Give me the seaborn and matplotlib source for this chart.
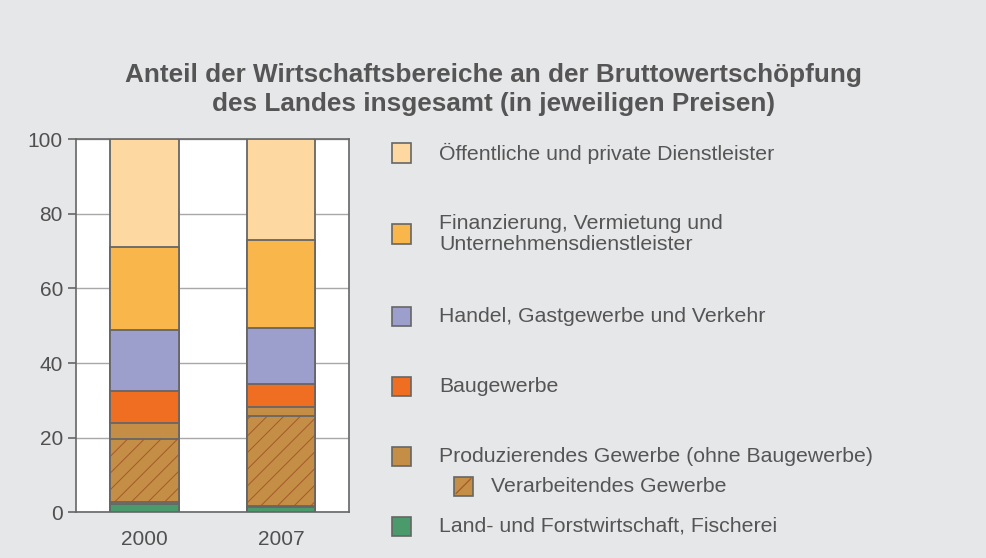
import matplotlib
matplotlib.use("Agg")
import matplotlib.pyplot as plt
from matplotlib.patches import Rectangle
import seaborn as sns
import numpy as np

# ---- data (percent of gross value added) ----
years = ["2000", "2007"]
land = [2.2, 1.3]            # Land- und Forstwirtschaft, Fischerei
prod_lower = [0.5, 0.5]      # part of Produzierendes Gewerbe below Verarbeitendes Gewerbe
verarb = [16.9, 24.1]        # Verarbeitendes Gewerbe (hatched, inside Produzierendes)
prod = [21.7, 27.0]          # Produzierendes Gewerbe (ohne Baugewerbe), total
bau = [8.5, 6.0]             # Baugewerbe
handel = [16.5, 15.2]        # Handel, Gastgewerbe und Verkehr
finanz = [22.1, 23.6]        # Finanzierung, Vermietung und Unternehmensdienstleister
oeff = [29.0, 26.9]          # Öffentliche und private Dienstleister
yticks = [0, 20, 40, 60, 80, 100]

title = "Anteil der Wirtschaftsbereiche an der Bruttowertschöpfung\ndes Landes insgesamt (in jeweiligen Preisen)"
legend_labels = [
    "Öffentliche und private Dienstleister",
    "Finanzierung, Vermietung und\nUnternehmensdienstleister",
    "Handel, Gastgewerbe und Verkehr",
    "Baugewerbe",
    "Produzierendes Gewerbe (ohne Baugewerbe)",
    "Verarbeitendes Gewerbe",
    "Land- und Forstwirtschaft, Fischerei",
]

C_OEFF = "#FDD8A0"
C_FIN = "#F9B74B"
C_HAN = "#9C9ECC"
C_BAU = "#F06E21"
C_PROD = "#C48E46"
C_LAND = "#4B9A6B"
C_HATCH = "#A5582A"
EDGE = "#666666"
BG = "#E6E7E9"
TXT = "#555555"

sns.set_theme(style="white")
plt.rcParams["font.family"] = ["Liberation Sans", "DejaVu Sans"]
plt.rcParams["hatch.linewidth"] = 0.7

fig = plt.figure(figsize=(9.87, 5.58), dpi=100, facecolor=BG)
ax = fig.add_axes([0.077, 0.0819, 0.277, 0.6685])
ax.set_facecolor("white")

a = lambda *ls: np.sum(np.array(ls, dtype=float), axis=0)
tot_land = a(land)
tot_prod = a(land, prod)
tot_bau = a(land, prod, bau)
tot_han = a(land, prod, bau, handel)
tot_fin = a(land, prod, bau, handel, finanz)
tot_oeff = a(land, prod, bau, handel, finanz, oeff)
tot_verarb = a(land, prod_lower, verarb)
tot_plow = a(land, prod_lower)

common = dict(width=0.5, saturation=1, ax=ax, zorder=3)
layers = [
    (tot_oeff, C_OEFF),
    (tot_fin, C_FIN),
    (tot_han, C_HAN),
    (tot_bau, C_BAU),
    (tot_prod, C_PROD),
]
for vals, col in layers:
    sns.barplot(x=years, y=vals, color=col, edgecolor=EDGE, linewidth=1.3, **common)
# hatched Verarbeitendes Gewerbe
sns.barplot(x=years, y=tot_verarb, color=C_PROD, edgecolor=C_HATCH, linewidth=0,
            hatch="//", **common)
sns.barplot(x=years, y=tot_verarb, fill=False, edgecolor=EDGE, linewidth=1.3, **common)
sns.barplot(x=years, y=tot_plow, color=C_PROD, edgecolor=EDGE, linewidth=1.3, **common)
sns.barplot(x=years, y=tot_land, color=C_LAND, edgecolor=EDGE, linewidth=1.3, **common)

ax.set_xlim(-0.5, 1.5)
ax.set_ylim(0, 100)
ax.set_yticks(yticks)
ax.set_yticklabels([str(t) for t in yticks])
ax.set_xlabel("")
ax.set_ylabel("")
ax.yaxis.grid(True, color="#A8A8A8", linewidth=1.0, zorder=0)
ax.set_axisbelow(True)
for s in ax.spines.values():
    s.set_color(EDGE)
    s.set_linewidth(1.2)
ax.tick_params(axis="y", which="both", left=True, length=5.8, width=1.2, color=EDGE,
               labelsize=15, labelcolor="#505050", pad=3.6)
ax.tick_params(axis="x", length=0, labelsize=15, labelcolor="#505050", pad=13)

fig.text(0.4995, 0.8396, title, ha="center", va="center", fontsize=18.8,
         fontweight="bold", color=TXT, linespacing=1.3)

# legend (manual)
W, H = fig.get_figwidth() * fig.dpi, fig.get_figheight() * fig.dpi
sq = 19
entries = [
    (392, 153, C_OEFF, False, 439, legend_labels[0]),
    (392, 234, C_FIN, False, 439, legend_labels[1]),
    (392, 316, C_HAN, False, 439, legend_labels[2]),
    (392, 386, C_BAU, False, 439, legend_labels[3]),
    (392, 456, C_PROD, False, 439, legend_labels[4]),
    (454, 486, C_PROD, True, 491, legend_labels[5]),
    (392, 526, C_LAND, False, 439, legend_labels[6]),
]
for x0, yc, col, hatched, tx, lab in entries:
    r = Rectangle((x0 / W, 1 - (yc + sq / 2) / H), sq / W, sq / H,
                  transform=fig.transFigure, facecolor=col, edgecolor=EDGE,
                  linewidth=1.2)
    fig.add_artist(r)
    if hatched:
        fig.add_artist(plt.Line2D([(x0 + 2) / W, (x0 + sq - 2) / W],
                                  [1 - (yc + sq / 2 - 2) / H, 1 - (yc - sq / 2 + 2) / H],
                                  transform=fig.transFigure, color=C_HATCH, lw=0.9))
    fig.text(tx / W, 1 - yc / H, lab, ha="left", va="center", fontsize=15.3,
             color=TXT, linespacing=1.1)

fig.savefig("out.png", dpi=100, facecolor=BG)
